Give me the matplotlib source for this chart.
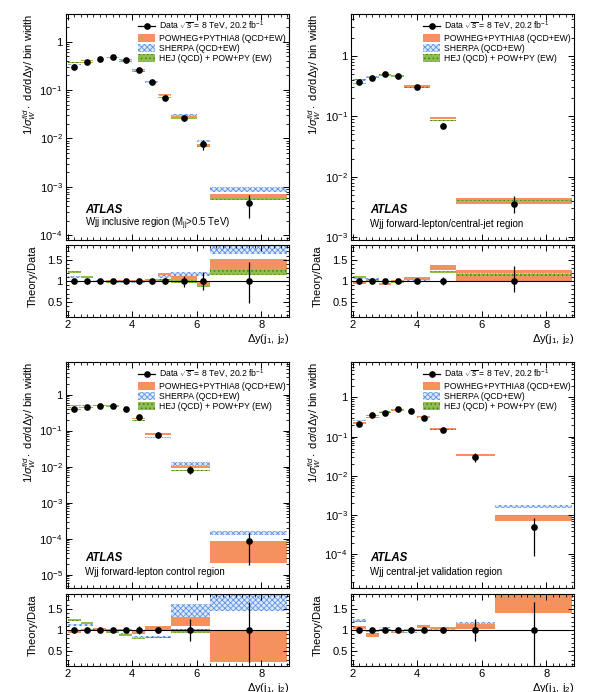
import numpy as np
import matplotlib
matplotlib.use('Agg')
import matplotlib.pyplot as plt
from matplotlib.patches import Patch
from matplotlib.lines import Line2D
from matplotlib.ticker import LogLocator, MultipleLocator, FixedLocator, FuncFormatter, NullFormatter

plt.rcParams['font.family'] = ['Liberation Sans', 'DejaVu Sans']
plt.rcParams['mathtext.fontset'] = 'custom'
plt.rcParams['mathtext.rm'] = 'Liberation Sans'
plt.rcParams['mathtext.it'] = 'Liberation Sans:italic'
plt.rcParams['mathtext.bf'] = 'Liberation Sans:bold'
plt.rcParams['hatch.linewidth'] = 0.6

# ---- data: bin edges, normalised data, relative errors, model/data bands ----
edges1 = [2.0, 2.4, 2.8, 3.2, 3.6, 4.0, 4.4, 4.8, 5.2, 6.0, 6.4, 8.8]
data1 = [0.30, 0.37, 0.43, 0.47, 0.42, 0.26, 0.144, 0.069, 0.026, 0.0075, 4.7e-4]
eup1 = [0.03, 0.03, 0.03, 0.03, 0.03, 0.03, 0.04, 0.06, 0.13, 0.22, 0.45]
edn1 = [0.03, 0.03, 0.03, 0.03, 0.03, 0.03, 0.04, 0.06, 0.13, 0.22, 0.52]
pw1_lo = [0.97, 0.98, 0.99, 0.99, 0.99, 0.99, 1.00, 1.11, 1.03, 0.88, 1.27]
pw1_hi = [1.01, 1.01, 1.02, 1.02, 1.02, 1.02, 1.05, 1.19, 1.12, 1.00, 1.53]
sh1_lo = [1.08, 1.07, 0.99, 0.98, 0.95, 0.96, 0.97, 1.07, 1.12, 1.12, 1.64]
sh1_hi = [1.12, 1.10, 1.02, 1.01, 0.98, 0.99, 1.00, 1.15, 1.22, 1.22, 2.10]
hj1_lo = [1.20, 1.08, 0.99, 0.96, 0.92, 0.92, 0.92, 1.01, 0.95, 0.87, 1.15]
hj1_hi = [1.24, 1.12, 1.01, 0.98, 0.94, 0.94, 0.94, 1.05, 1.03, 0.91, 1.27]

edges2 = [2.0, 2.4, 2.8, 3.2, 3.6, 4.4, 5.2, 8.8]
data2 = [0.37, 0.43, 0.50, 0.47, 0.30, 0.070, 0.0035]
eup2 = [0.07, 0.05, 0.03, 0.04, 0.04, 0.10, 0.35]
edn2 = [0.07, 0.05, 0.03, 0.04, 0.04, 0.10, 0.27]
pw2_lo = [0.93, 0.98, 0.91, 0.99, 1.03, 1.27, 1.00]
pw2_hi = [0.97, 1.01, 0.95, 1.02, 1.09, 1.37, 1.26]
sh2_lo = [1.04, 1.03, 0.98, 0.95, 0.99, 1.18, 1.13]
sh2_hi = [1.07, 1.06, 1.01, 0.98, 1.02, 1.22, 1.19]
hj2_lo = [1.08, 1.01, 0.97, 0.96, 0.97, 1.18, 1.13]
hj2_hi = [1.12, 1.04, 1.00, 0.99, 1.00, 1.23, 1.17]

edges3 = [2.0, 2.4, 2.8, 3.2, 3.6, 4.0, 4.4, 5.2, 6.4, 8.8]
data3 = [0.40, 0.44, 0.49, 0.49, 0.40, 0.235, 0.077, 0.0081, 8.7e-5]
eup3 = [0.04, 0.03, 0.03, 0.03, 0.04, 0.10, 0.07, 0.25, 0.65]
edn3 = [0.04, 0.03, 0.03, 0.03, 0.04, 0.10, 0.07, 0.25, 0.78]
pw3_lo = [0.92, 0.98, 1.00, 0.99, 0.98, 0.90, 1.00, 1.10, 0.25]
pw3_hi = [1.00, 1.02, 1.05, 1.02, 1.02, 0.97, 1.10, 1.30, 1.00]
sh3_lo = [1.09, 1.09, 0.99, 0.98, 0.91, 0.82, 0.82, 1.31, 1.46]
sh3_hi = [1.13, 1.13, 1.02, 1.01, 0.94, 0.85, 0.85, 1.61, 1.86]
hj3_lo = [1.21, 1.14, 0.99, 0.94, 0.87, 0.79, 0.80, 0.93, np.nan]
hj3_hi = [1.25, 1.18, 1.02, 0.97, 0.90, 0.82, 0.83, 1.02, np.nan]

edges4 = [2.0, 2.4, 2.8, 3.2, 3.6, 4.0, 4.4, 5.2, 6.4, 8.8]
data4 = [0.21, 0.355, 0.41, 0.50, 0.45, 0.30, 0.152, 0.031, 5.1e-4]
eup4 = [0.08, 0.04, 0.04, 0.03, 0.03, 0.04, 0.07, 0.26, 0.66]
edn4 = [0.08, 0.04, 0.04, 0.03, 0.03, 0.04, 0.07, 0.26, 0.82]
pw4_lo = [1.02, 0.84, 0.98, 0.92, 0.98, 1.04, 1.02, 1.02, 1.41]
pw4_hi = [1.10, 0.92, 1.03, 0.97, 1.02, 1.12, 1.08, 1.16, 2.00]
sh4_lo = [1.21, 0.97, 1.05, 0.96, 0.93, 1.00, 1.00, 1.15, 3.00]
sh4_hi = [1.25, 1.00, 1.08, 0.99, 0.96, 1.03, 1.02, 1.20, 3.60]
hj4_lo = [1.18, 0.95, 0.99, 0.97, 0.98, 0.98, 0.98, 1.04, 1.90]
hj4_hi = [1.22, 0.98, 1.02, 1.00, 1.01, 1.01, 1.01, 1.07, 2.00]

titles = ['Wjj inclusive region (M$_{\\rm jj}$>0.5 TeV)',
          'Wjj forward-lepton/central-jet region',
          'Wjj forward-lepton control region',
          'Wjj central-jet validation region']
ylims = [(8e-5, 3.7), (9e-4, 4.9), (4.3e-6, 8.0), (1.4e-5, 8.0)]

# ---- styles ----
pw_style = dict(color='#f5915f', linewidth=0)
sh_style = dict(facecolor='#dde8fb', edgecolor='#5f93e6', hatch='xxxxxx', linewidth=0)
hj_style = dict(facecolor='#8fbf4a', edgecolor='#3f7d1c', hatch='....', linewidth=0)

FS_TICK = 8
FS_LAB = 8
FS_LEG = 6.2


def logfmt(v, pos):
    n = int(round(np.log10(v)))
    if n == 0:
        return '1'
    return '10$^{%d}$' % n


def bands(ax, edges, scale, lo, hi, style):
    edges = np.asarray(edges)
    lo = np.asarray(lo) * scale
    hi = np.asarray(hi) * scale
    ok = ~np.isnan(lo)
    ax.bar(edges[:-1][ok], (hi - lo)[ok], bottom=lo[ok], width=np.diff(edges)[ok],
           align='edge', **style)


def style_axis(ax):
    ax.tick_params(which='both', direction='in', top=True, right=True,
                   labelsize=FS_TICK, pad=2.5)
    ax.tick_params(which='major', length=4.5, width=0.7)
    ax.tick_params(which='minor', length=2.3, width=0.6)
    ax.xaxis.set_major_locator(MultipleLocator(2))
    ax.xaxis.set_minor_locator(MultipleLocator(0.2))
    for s in ax.spines.values():
        s.set_linewidth(0.8)


def panel(ax, rax, edges, data, eup, edn, pw, sh, hj, ylim, title):
    edges = np.asarray(edges)
    data = np.asarray(data)
    centers = 0.5 * (edges[:-1] + edges[1:])
    ones = np.ones_like(data)

    for a, sc in ((ax, data), (rax, ones)):
        bands(a, edges, sc, pw[0], pw[1], pw_style)
        bands(a, edges, sc, sh[0], sh[1], sh_style)
        bands(a, edges, sc, hj[0], hj[1], hj_style)

    yerr = [data * np.asarray(edn), data * np.asarray(eup)]
    ax.errorbar(centers, data, yerr=yerr, fmt='o', color='black', ms=3.8,
                elinewidth=0.9, capsize=0, zorder=5)
    rax.axhline(1.0, color='black', lw=0.8, zorder=4)
    rax.errorbar(centers, ones, yerr=[edn, eup], fmt='o', color='black', ms=3.8,
                 elinewidth=0.9, capsize=0, zorder=5)

    ax.set_yscale('log')
    ax.set_ylim(*ylim)
    ax.set_xlim(1.95, 8.85)
    ax.yaxis.set_major_locator(LogLocator(base=10, numticks=20))
    ax.yaxis.set_major_formatter(FuncFormatter(logfmt))
    ax.yaxis.set_minor_locator(LogLocator(base=10, subs=np.arange(2, 10), numticks=20))
    ax.yaxis.set_minor_formatter(NullFormatter())
    style_axis(ax)
    ax.tick_params(labelbottom=False)

    rax.set_xlim(1.95, 8.85)
    rax.set_ylim(0.15, 1.85)
    rax.yaxis.set_major_locator(FixedLocator([0.5, 1.0, 1.5]))
    rax.yaxis.set_major_formatter(FuncFormatter(lambda v, p: '1' if v == 1 else '%.1f' % v))
    rax.yaxis.set_minor_locator(MultipleLocator(0.1))
    style_axis(rax)

    ax.set_ylabel('1/$\\sigma_W^{fid}\\cdot$ d$\\sigma$/d$\\Delta$y/ bin width',
                  fontsize=FS_LAB, loc='top')
    ax.yaxis.set_label_coords(-0.125, 1.0)
    rax.set_ylabel('Theory/Data', fontsize=FS_LAB, loc='top')
    rax.yaxis.set_label_coords(-0.125, 1.0)
    rax.set_xlabel('$\\Delta$y(j$_1$, j$_2$)', fontsize=FS_LAB, loc='right', labelpad=1)

    ax.text(0.085, 0.132, 'ATLAS', transform=ax.transAxes, fontsize=8.3,
            fontweight='bold', fontstyle='italic', va='center')
    ax.text(0.085, 0.072, title, transform=ax.transAxes, fontsize=7, va='center')

    handles = [Line2D([], [], color='black', marker='o', ms=3.8, lw=0.9),
               Patch(**pw_style), Patch(**sh_style), Patch(**hj_style)]
    labels = ['Data $\\sqrt{s}$ = 8 TeV, 20.2 fb$^{-1}$', 'POWHEG+PYTHIA8 (QCD+EW)',
              'SHERPA (QCD+EW)', 'HEJ (QCD) + POW+PY (EW)']
    ax.legend(handles, labels, loc='upper left', bbox_to_anchor=(0.3, 0.995),
              frameon=False, fontsize=FS_LEG, handlelength=2.0, handleheight=1.0,
              handletextpad=0.4, labelspacing=0.15, borderaxespad=0.2)


fig = plt.figure(figsize=(5.96, 6.92), dpi=100)
lefts = [0.1107, 0.589]
W = 0.374
main_b = [0.6532, 0.1503]
ratio_b = [0.5419, 0.0376]
MH, RH = 0.3266, 0.104

sets = [
    (edges1, data1, eup1, edn1, (pw1_lo, pw1_hi), (sh1_lo, sh1_hi), (hj1_lo, hj1_hi)),
    (edges2, data2, eup2, edn2, (pw2_lo, pw2_hi), (sh2_lo, sh2_hi), (hj2_lo, hj2_hi)),
    (edges3, data3, eup3, edn3, (pw3_lo, pw3_hi), (sh3_lo, sh3_hi), (hj3_lo, hj3_hi)),
    (edges4, data4, eup4, edn4, (pw4_lo, pw4_hi), (sh4_lo, sh4_hi), (hj4_lo, hj4_hi)),
]

for i, s in enumerate(sets):
    row, col = divmod(i, 2)
    ax = fig.add_axes([lefts[col], main_b[row], W, MH])
    rax = fig.add_axes([lefts[col], ratio_b[row], W, RH], sharex=ax)
    panel(ax, rax, *s, ylims[i], titles[i])

fig.savefig('out.png', dpi=100)
